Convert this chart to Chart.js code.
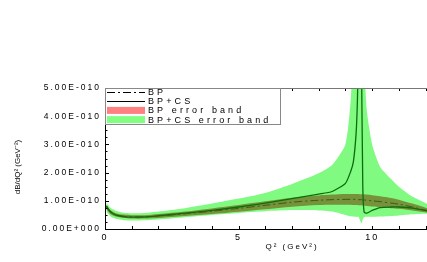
<!DOCTYPE html>
<html>
<head>
<meta charset="utf-8">
<script src="https://cdn.jsdelivr.net/npm/chart.js@4.4.1/dist/chart.umd.min.js"></script>
<style>
  html, body { margin: 0; padding: 0; background: #fff; overflow: hidden; }
  #wrap { width: 490px; height: 262px; }
</style>
</head>
<body>
<div id="wrap"><canvas id="c" width="490" height="262"></canvas></div>
<script>
// Q^2 (GeV^2) sample points
const q2 = [0.05, 0.2, 0.4, 0.7, 1, 1.5, 2, 3, 4, 5, 6, 7, 8, 8.5, 9, 9.2, 9.3, 9.4, 9.45, 9.5, 9.55, 9.6, 9.65, 9.7, 9.8, 10, 10.3, 10.7, 11, 11.5, 12.3];
// dB/dQ^2 in units of 1e-10 GeV^-2
const bp = [0.78, 0.6, 0.5, 0.45, 0.43, 0.43, 0.46, 0.54, 0.63, 0.73, 0.84, 0.95, 1.02, 1.04, 1.05, 1.05, 1.05, 1.05, 1.05, 1.04, 1.04, 1.04, 1.03, 1.03, 1.02, 1.0, 0.97, 0.92, 0.88, 0.78, 0.6];
const bpcs = [0.82, 0.62, 0.5, 0.44, 0.42, 0.43, 0.47, 0.56, 0.66, 0.78, 0.92, 1.08, 1.24, 1.33, 1.62, 2.05, 2.4, 3.4, 4.6, 7, 9, 6, 1.5, 0.6, 0.56, 0.66, 0.76, 0.78, 0.78, 0.74, 0.6];
const bpLo = [0.7, 0.53, 0.44, 0.39, 0.37, 0.37, 0.39, 0.46, 0.53, 0.61, 0.7, 0.79, 0.85, 0.86, 0.86, 0.86, 0.85, 0.85, 0.85, 0.84, 0.84, 0.84, 0.83, 0.83, 0.82, 0.8, 0.78, 0.74, 0.72, 0.66, 0.55];
const bpHi = [0.86, 0.67, 0.56, 0.51, 0.49, 0.49, 0.53, 0.62, 0.73, 0.85, 0.98, 1.11, 1.19, 1.22, 1.24, 1.24, 1.24, 1.24, 1.24, 1.24, 1.23, 1.23, 1.23, 1.23, 1.22, 1.2, 1.16, 1.1, 1.04, 0.9, 0.66];
const csLo = [0.62, 0.45, 0.36, 0.31, 0.3, 0.31, 0.34, 0.42, 0.5, 0.57, 0.63, 0.67, 0.66, 0.62, 0.5, 0.45, 0.44, 0.43, 0.43, 0.42, 0.3, 0.2, 0.35, 0.42, 0.43, 0.43, 0.44, 0.46, 0.48, 0.52, 0.56];
const csHi = [0.95, 0.75, 0.65, 0.58, 0.56, 0.57, 0.62, 0.74, 0.9, 1.08, 1.28, 1.6, 1.98, 2.27, 3.0, 4.6, 7, 8, 8, 8, 8, 8, 8, 6, 4.2, 3.0, 2.2, 1.78, 1.5, 1.15, 0.78];
const yTicks = [0, 1, 2, 3, 4, 5];
const xTicks = [0, 5, 10];

const pts = arr => arr.map((v, i) => ({ x: q2[i], y: v }));
const FONT = "'Liberation Sans', Arial, sans-serif";

const frameTicks = {
  id: 'frameTicks',
  beforeDraw(chart) {
    chart.ctx.letterSpacing = '2px';
  },
  afterDatasetsDraw(chart) {
    const { ctx, chartArea: a, scales: { x, y } } = chart;
    ctx.save();
    ctx.strokeStyle = '#000';
    ctx.lineWidth = 1;
    ctx.beginPath();
    for (let v = 0; v <= 14; v += 1) {
      const px = Math.round(x.getPixelForValue(v)) + 0.5;
      ctx.moveTo(px, a.bottom); ctx.lineTo(px, a.bottom - 3);
      ctx.moveTo(px, a.top); ctx.lineTo(px, a.top + 3);
    }
    for (let v = 0; v <= 5; v += 0.25) {
      const py = Math.round(y.getPixelForValue(v)) + 0.5;
      const len = Number.isInteger(v) ? 4 : 2.5;
      ctx.moveTo(a.left, py); ctx.lineTo(a.left + len, py);
    }
    ctx.stroke();
    ctx.strokeStyle = '#777';
    ctx.beginPath();
    ctx.moveTo(a.left, Math.round(a.top) + 0.5); ctx.lineTo(a.right, Math.round(a.top) + 0.5);
    ctx.stroke();
    ctx.strokeStyle = '#000';
    ctx.beginPath();
    ctx.moveTo(Math.round(a.left) + 0.5, a.top); ctx.lineTo(Math.round(a.left) + 0.5, a.bottom);
    ctx.moveTo(a.left, Math.round(a.bottom) + 0.5); ctx.lineTo(a.right, Math.round(a.bottom) + 0.5);
    ctx.stroke();

    // legend box inside plot, top-left
    const lx = a.left, ly = a.top, lw = 175, lh = 36;
    ctx.fillStyle = '#fff';
    ctx.fillRect(lx, ly, lw, lh);
    ctx.strokeStyle = '#888';
    ctx.strokeRect(lx + 0.5, ly + 0.5, lw, lh);
    const items = [
      { label: 'BP', kind: 'line', dash: [8, 3, 2, 3] },
      { label: 'BP+CS', kind: 'line', dash: [] },
      { label: 'BP error band', kind: 'box', color: '#ff8080' },
      { label: 'BP+CS error band', kind: 'box', color: '#80ff80' }
    ];
    ctx.font = '9px ' + FONT;
    ctx.textBaseline = 'middle';
    ctx.textAlign = 'left';
    ctx.letterSpacing = '3.1px';
    items.forEach((it, i) => {
      const cy = ly + 4 + i * 9.2;
      if (it.kind === 'line') {
        ctx.strokeStyle = '#000';
        ctx.setLineDash(it.dash);
        ctx.beginPath();
        ctx.moveTo(lx + 2, Math.round(cy) + 0.5); ctx.lineTo(lx + 40, Math.round(cy) + 0.5);
        ctx.stroke();
        ctx.setLineDash([]);
      } else {
        ctx.fillStyle = it.color;
        ctx.fillRect(lx + 2, cy - 3.5, 38, 7);
      }
      ctx.fillStyle = '#000';
      ctx.fillText(it.label, lx + 43, cy + 0.5);
    });

    // y axis title, drawn without extra spacing
    ctx.letterSpacing = '0px';
    ctx.font = '8px ' + FONT;
    ctx.textAlign = 'center';
    ctx.translate(18, 167);
    ctx.rotate(-Math.PI / 2);
    ctx.fillText('dB/dQ² (GeV⁻²)', 0, 0);
    ctx.restore();
  }
};

new Chart(document.getElementById('c'), {
  type: 'line',
  data: {
    datasets: [
      { label: 'BP', data: pts(bp), borderColor: '#3a5c10', borderWidth: 1, borderDash: [8, 3, 2, 3], pointRadius: 0, fill: false, tension: 0.3 },
      { label: 'BP+CS', data: pts(bpcs), borderColor: '#0b6e0b', borderWidth: 1.3, pointRadius: 0, fill: false, tension: 0.2 },
      { label: 'BP error band', data: pts(bpHi), borderWidth: 0, pointRadius: 0, backgroundColor: '#ff8080', fill: { target: '+1', above: 'rgb(118,146,58)', below: 'rgb(118,146,58)' }, tension: 0.3 },
      { label: 'BP lower', data: pts(bpLo), borderWidth: 0, pointRadius: 0, fill: false, tension: 0.3 },
      { label: 'BP+CS error band', data: pts(csHi), borderWidth: 0, pointRadius: 0, backgroundColor: '#80ff80', fill: { target: '+1', above: 'rgb(128,250,128)', below: 'rgb(128,250,128)' }, tension: 0.2 },
      { label: 'BP+CS lower', data: pts(csLo), borderWidth: 0, pointRadius: 0, fill: false, tension: 0.2 }
    ]
  },
  options: {
    responsive: false,
    animation: false,
    layout: { padding: { top: 88, right: 11, left: 0, bottom: 0 } },
    plugins: { legend: { display: false }, tooltip: { enabled: false } },
    scales: {
      x: {
        type: 'linear', min: 0, max: 14,
        grid: { display: false, drawTicks: false }, border: { display: false },
        afterBuildTicks: s => { s.ticks = xTicks.map(v => ({ value: v })); },
        ticks: { color: '#000', font: { family: FONT, size: 9 }, padding: 3, maxRotation: 0, callback: v => String(v) },
        title: { display: true, text: 'Q² (GeV²)', color: '#000', font: { family: FONT, size: 8 }, padding: { top: 0, bottom: 10 } },
        afterFit: s => { s.height = 33; }
      },
      y: {
        min: 0, max: 5,
        grid: { display: false, drawTicks: false }, border: { display: false },
        afterBuildTicks: s => { s.ticks = yTicks.map(v => ({ value: v })); },
        ticks: { color: '#000', font: { family: FONT, size: 8.5 }, padding: 4, callback: v => v === 0 ? '0.00E+000' : v.toFixed(2) + 'E-010' },
        afterFit: s => { s.width = 105; }
      }
    }
  },
  plugins: [frameTicks]
});
</script>
</body>
</html>
